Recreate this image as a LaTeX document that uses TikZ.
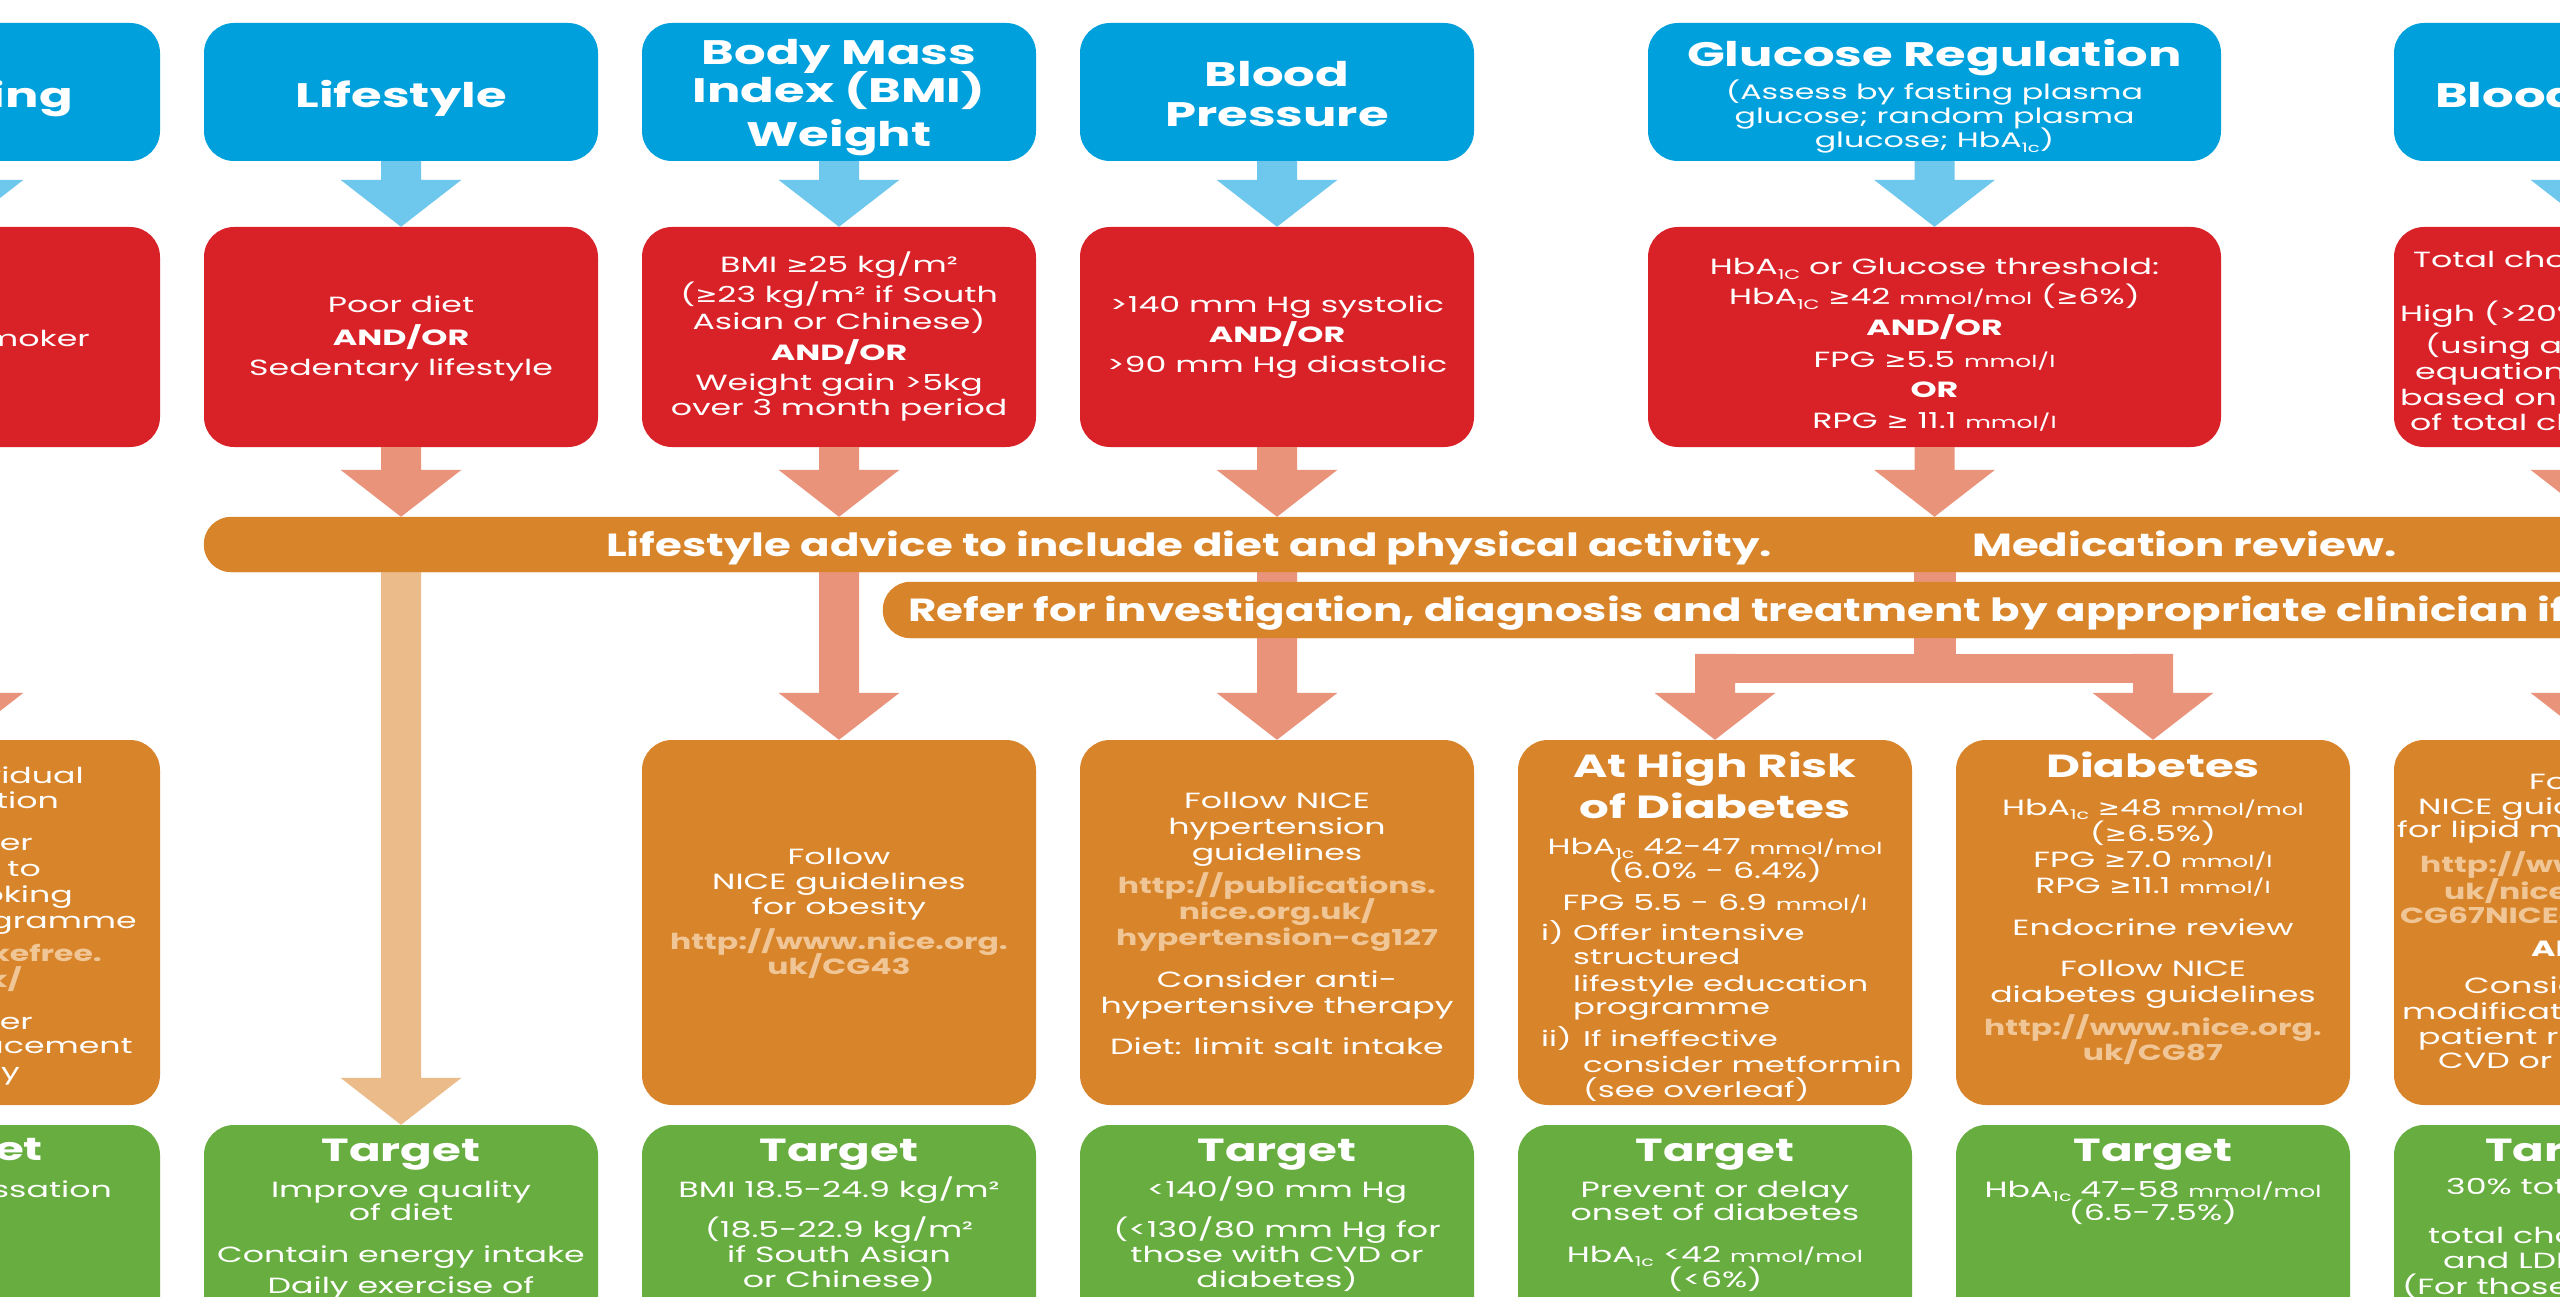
\documentclass[tikz,border=0pt]{standalone}
\usepackage{fontspec}
\usepackage{graphicx}
\setmainfont{Poppins}[FakeStretch=1.51]
\newfontfamily\hdfont{Poppins}[FakeStretch=1.46]
\newfontfamily\urlfont{Poppins}[FakeStretch=1.43]
\newfontfamily\barfont{Poppins}[FakeStretch=1.36]
\newfontfamily\symfont{DejaVu Sans}[FakeStretch=1.2]
\usetikzlibrary{calc}

\definecolor{hdrblue}{HTML}{00A0DC}
\definecolor{arrblue}{HTML}{6EC7EC}
\definecolor{riskred}{HTML}{D92128}
\definecolor{arrsalmon}{HTML}{EA937B}
\definecolor{actorange}{HTML}{D8842A}
\definecolor{arrpeach}{HTML}{EBBC89}
\definecolor{tgtgreen}{HTML}{67AD3F}
\definecolor{urlpeach}{HTML}{F0C696}

\newcommand\gte{{\symfont ≥}}
\newcommand\hba[1]{HbA\raisebox{-0.2em}{\scalebox{0.62}{#1}}}
\newcommand\unt[1]{\scalebox{0.75}{#1}}
% block arrow: colour, start of stem, tip (same x)
\newcommand\blockarrow[3]{%
  \fill[#1] ($(#2)+(-20,0)$) -- ($(#2)+(20,0)$) -- ($(#3)+(20,-47)$)
    -- ($(#3)+(60.5,-47)$) -- (#3) -- ($(#3)+(-60.5,-47)$)
    -- ($(#3)+(-20,-47)$) -- cycle;}

\begin{document}
\begin{tikzpicture}[x=1pt,y=-1pt,
  panel/.style={rounded corners=30pt, inner sep=0pt, minimum width=394pt},
  band/.style={rounded corners=27.5pt, inner sep=0pt, fill=actorange},
  tx/.style={anchor=base, text=white, inner sep=0pt, font=\fontsize{22}{26}\selectfont},
  txl/.style={tx, anchor=base west, font=\fontsize{21.4}{26}\selectfont},
  txb/.style={tx, font=\fontsize{22}{26}\selectfont\bfseries},
  url/.style={tx, text=urlpeach, font=\urlfont\fontsize{22}{26}\selectfont\bfseries},
  hd/.style={tx, font=\hdfont\fontsize{34}{40}\selectfont\bfseries},
  hdsub/.style={tx, font=\fontsize{21}{24}\selectfont},
  sect/.style={tx, font=\hdfont\fontsize{32}{36}\selectfont\bfseries},
  tgt/.style={tx, font=\hdfont\fontsize{32}{36}\selectfont\bfseries},
  bandtx/.style={anchor=base west, text=white, inner sep=0pt, font=\barfont\fontsize{32}{36}\selectfont\bfseries},
]
\useasboundingbox (0,0) rectangle (2560,1297);
\clip (0,0) rectangle (2560,1297);
\fill[white] (0,0) rectangle (2560,1297);

% ---------- header row ----------
\node[panel, fill=hdrblue, minimum height=138pt] (h0) at (-37,92) {};
\node[panel, fill=hdrblue, minimum height=138pt] (h1) at (401,92) {};
\node[panel, fill=hdrblue, minimum height=138pt] (h2) at (839,92) {};
\node[panel, fill=hdrblue, minimum height=138pt] (h3) at (1277,92) {};
\node[panel, fill=hdrblue, minimum height=138pt, minimum width=573pt] (hg) at (1934.5,92) {};
\node[panel, fill=hdrblue, minimum height=138pt] (h6) at (2591,92) {};

% ---------- risk row ----------
\node[panel, fill=riskred, minimum height=220pt] (r0) at (-37,337) {};
\node[panel, fill=riskred, minimum height=220pt] (r1) at (401,337) {};
\node[panel, fill=riskred, minimum height=220pt] (r2) at (839,337) {};
\node[panel, fill=riskred, minimum height=220pt] (r3) at (1277,337) {};
\node[panel, fill=riskred, minimum height=220pt, minimum width=573pt] (rg) at (1934.5,337) {};
\node[panel, fill=riskred, minimum height=220pt] (r6) at (2591,337) {};

% ---------- action row ----------
\node[panel, fill=actorange, minimum height=365pt] (o0) at (-37,922.5) {};
\node[panel, fill=actorange, minimum height=365pt] (o2) at (839,922.5) {};
\node[panel, fill=actorange, minimum height=365pt] (o3) at (1277,922.5) {};
\node[panel, fill=actorange, minimum height=365pt] (o4) at (1715,922.5) {};
\node[panel, fill=actorange, minimum height=365pt] (o5) at (2153,922.5) {};
\node[panel, fill=actorange, minimum height=365pt] (o6) at (2591,922.5) {};

% ---------- target row ----------
\node[panel, fill=tgtgreen, minimum height=300pt] (g0) at (-37,1275) {};
\node[panel, fill=tgtgreen, minimum height=300pt] (g1) at (401,1275) {};
\node[panel, fill=tgtgreen, minimum height=300pt] (g2) at (839,1275) {};
\node[panel, fill=tgtgreen, minimum height=300pt] (g3) at (1277,1275) {};
\node[panel, fill=tgtgreen, minimum height=300pt] (g4) at (1715,1275) {};
\node[panel, fill=tgtgreen, minimum height=300pt] (g5) at (2153,1275) {};
\node[panel, fill=tgtgreen, minimum height=300pt] (g6) at (2591,1275) {};

% ---------- bands (placed first so arrows can refer to them) ----------
\path (1552,544.5) node[band, minimum width=2696pt, minimum height=55pt] (bar1) {};
\path (1891.5,610) node[band, minimum width=2017pt, minimum height=56pt] (bar2) {};

% ---------- arrows ----------
\blockarrow{arrblue}{h0.south}{r0.north}
\blockarrow{arrblue}{h1.south}{r1.north}
\blockarrow{arrblue}{h2.south}{r2.north}
\blockarrow{arrblue}{h3.south}{r3.north}
\blockarrow{arrblue}{hg.south}{rg.north}
\blockarrow{arrblue}{h6.south}{r6.north}

\blockarrow{arrsalmon}{r0.south}{o0.north}
\coordinate (t1) at (r1 |- bar1.north);
\coordinate (t2) at (r2 |- bar1.north);
\coordinate (t3) at (r3 |- bar1.north);
\coordinate (tg) at (rg |- bar1.north);
\coordinate (t6) at (r6 |- bar1.north);
\blockarrow{arrsalmon}{r1.south}{t1}
\blockarrow{arrsalmon}{r2.south}{t2}
\blockarrow{arrsalmon}{r3.south}{t3}
\blockarrow{arrsalmon}{rg.south}{tg}
\blockarrow{arrsalmon}{r6.south}{t6}

\coordinate (s1) at (r1 |- bar1.south);
\coordinate (s2) at (r2 |- bar1.south);
\coordinate (s3) at (r3 |- bar1.south);
\coordinate (sg) at (rg |- bar1.south);
\coordinate (s6) at (r6 |- bar1.south);
\blockarrow{arrpeach}{s1}{g1.north}
\blockarrow{arrsalmon}{s2}{o2.north}
\blockarrow{arrsalmon}{s3}{o3.north}
\blockarrow{arrsalmon}{s6}{o6.north}

% fork towards the two glucose outcomes
\coordinate (forkL) at ($(o4.north)+(0,-86)$);
\coordinate (forkR) at ($(o5.north)+(0,-86)$);
\fill[arrsalmon] ($(sg)+(-21,0)$) rectangle ($(sg |- forkL)+(21,29)$);
\fill[arrsalmon] ($(forkL)+(-20,0)$) rectangle ($(forkR)+(20,29)$);
\blockarrow{arrsalmon}{forkL}{o4.north}
\blockarrow{arrsalmon}{forkR}{o5.north}

% bands drawn over the arrows
\fill[actorange, rounded corners=27.5pt] (bar1.south west) rectangle (bar1.north east);
\fill[actorange, rounded corners=28pt] (bar2.south west) rectangle (bar2.north east);

\node[bandtx] (b1a) at (606,556) {Lifestyle advice to include diet and physical activity.};
\node[bandtx] (b1b) at (1972,556) {Medication review.};
\node[bandtx] (b2a) at (908,621) {Refer for investigation, diagnosis and treatment by appropriate clinician if necessary.};

% ---------- header texts ----------
\node[hd, anchor=base east] (h0t) at (73,108) {Smoking};
\node[hd] (h1t) at (401,108) {Lifestyle};
\node[hd] (h2a) at (839,65) {Body Mass};
\node[hd] (h2b) at (839,103) {Index (BMI)};
\node[hd] (h2c) at (839,147) {Weight};
\node[hd] (h3a) at (1277,87) {Blood};
\node[hd] (h3b) at (1277,127) {Pressure};
\node[hd] (hga) at (1934.5,67) {Glucose Regulation};
\node[hdsub] (hgb) at (1934.5,100) {(Assess by fasting plasma};
\node[hdsub] (hgc) at (1934.5,124) {glucose; random plasma};
\node[hdsub] (hgd) at (1934.5,148) {glucose; \hba{1c})};
\node[hd, anchor=base west] (h6t) at (2435,108) {Blood Lipids};

% ---------- risk texts ----------
\node[tx, anchor=base east] (r0a) at (90,347) {Current smoker};

\node[tx] (r1a) at (401,313) {Poor diet};
\node[txb] (r1b) at (401,345) {AND/OR};
\node[tx] (r1c) at (401,375) {Sedentary lifestyle};

\node[tx] (r2a) at (839,273) {BMI \gte25 kg/m²};
\node[tx] (r2b) at (839,303) {(\gte23 kg/m² if South};
\node[tx] (r2c) at (839,330) {Asian or Chinese)};
\node[txb] (r2d) at (839,360) {AND/OR};
\node[tx] (r2e) at (839,390) {Weight gain >5kg};
\node[tx] (r2f) at (839,415) {over 3 month period};

\node[tx] (r3a) at (1277,313) {>140 mm Hg systolic};
\node[txb] (r3b) at (1277,343) {AND/OR};
\node[tx] (r3c) at (1277,373) {>90 mm Hg diastolic};

\node[tx] (rga) at (1934.5,275) {\hba{1C} or Glucose threshold:};
\node[tx] (rgb) at (1934.5,305) {\hba{1C} \gte42 \unt{mmol/mol} (\gte6\%)};
\node[txb] (rgc) at (1934.5,335) {AND/OR};
\node[tx] (rgd) at (1934.5,367) {FPG \gte5.5 \unt{mmol/l}};
\node[txb] (rge) at (1934.5,397) {OR};
\node[tx] (rgf) at (1934.5,428) {RPG \gte{} 11.1 \unt{mmol/l}};

\node[tx, anchor=base west] (r6a) at (2413,268) {Total cholesterol};
\node[tx, anchor=base west] (r6b) at (2400,322) {High (>20\%) CVD risk};
\node[tx, anchor=base west] (r6c) at (2425,353) {(using an appropriate};
\node[tx, anchor=base west] (r6d) at (2415,379) {equation, e.g. QRISK2,};
\node[tx, anchor=base west] (r6e) at (2400,405) {based on the ratio};
\node[tx, anchor=base west] (r6f) at (2410,430) {of total cholesterol:HDL)};

% ---------- action texts ----------
\node[tx, anchor=base east] (o0a) at (84,783) {Offer individual};
\node[tx, anchor=base east] (o0b) at (59,808) {consultation};
\node[tx, anchor=base east] (o0c) at (33,850) {Consider};
\node[tx, anchor=base east] (o0d) at (41,876) {referral to};
\node[tx, anchor=base east] (o0e) at (73,902) {stop smoking};
\node[tx, anchor=base east] (o0f) at (137,928) {cessation programme};
\node[url, anchor=base east] (o0g) at (102,961) {http://smokefree.};
\node[url, anchor=base east] (o0h) at (22,987) {nhs.uk/};
\node[tx, anchor=base east] (o0i) at (33,1029) {Consider};
\node[tx, anchor=base east] (o0j) at (133,1053) {nicotine replacement};
\node[tx, anchor=base east] (o0k) at (20,1079) {therapy};

\node[tx] (o2a) at (839,864) {Follow};
\node[tx] (o2b) at (839,889) {NICE guidelines};
\node[tx] (o2c) at (839,914) {for obesity};
\node[url] (o2d) at (839,949) {http://www.nice.org.};
\node[url] (o2e) at (839,974) {uk/CG43};

\node[tx] (o3a) at (1277,808) {Follow NICE};
\node[tx] (o3b) at (1277,834) {hypertension};
\node[tx] (o3c) at (1277,860) {guidelines};
\node[url] (o3d) at (1277,893) {http://publications.};
\node[url] (o3e) at (1277,919) {nice.org.uk/};
\node[url] (o3f) at (1277,945) {hypertension-cg127};
\node[tx] (o3g) at (1277,987) {Consider anti-};
\node[tx] (o3h) at (1277,1013) {hypertensive therapy};
\node[tx] (o3i) at (1277,1054) {Diet: limit salt intake};

\node[sect] (o4a) at (1715,777) {At High Risk};
\node[sect] (o4b) at (1715,818) {of Diabetes};
\node[tx] (o4c) at (1715,854) {\hba{1c} 42-47 \unt{mmol/mol}};
\node[tx] (o4d) at (1715,878) {(6.0\% - 6.4\%)};
\node[tx] (o4e) at (1715,910) {FPG 5.5 - 6.9 \unt{mmol/l}};
\node[txl] (o4f) at (1541,940) {i)};
\node[txl] (o4g) at (1573,940) {Offer intensive};
\node[txl] (o4h) at (1573,964) {structured};
\node[txl] (o4i) at (1573,991) {lifestyle education};
\node[txl] (o4j) at (1573,1014) {programme};
\node[txl] (o4k) at (1541,1046) {ii)};
\node[txl] (o4l) at (1583,1046) {If ineffective};
\node[txl] (o4m) at (1583,1072) {consider metformin};
\node[txl] (o4n) at (1583,1097) {(see overleaf)};

\node[sect] (o5a) at (2153,777) {Diabetes};
\node[tx] (o5b) at (2153,815) {\hba{1c} \gte48 \unt{mmol/mol}};
\node[tx] (o5c) at (2153,841) {(\gte6.5\%)};
\node[tx] (o5d) at (2153,867) {FPG \gte7.0 \unt{mmol/l}};
\node[tx] (o5e) at (2153,893) {RPG \gte11.1 \unt{mmol/l}};
\node[tx] (o5f) at (2153,935) {Endocrine review};
\node[tx] (o5g) at (2153,976) {Follow NICE};
\node[tx] (o5h) at (2153,1002) {diabetes guidelines};
\node[url] (o5i) at (2153,1035) {http://www.nice.org.};
\node[url] (o5j) at (2153,1060) {uk/CG87};

\node[tx, anchor=base west] (o6a) at (2529,789) {Follow};
\node[tx, anchor=base west] (o6b) at (2418,814) {NICE guidelines};
\node[tx, anchor=base west] (o6c) at (2397,837) {for lipid modification};
\node[url, anchor=base west] (o6d) at (2420,872) {http://www.nice.org.};
\node[url, anchor=base west] (o6e) at (2444,899) {uk/nicemedia/pdf/};
\node[url, anchor=base west] (o6f) at (2400,923) {CG67NICEguideline.pdf};
\node[txb, anchor=base west] (o6g) at (2531,956) {AND};
\node[tx, anchor=base west] (o6h) at (2464,993) {Consider};
\node[tx, anchor=base west] (o6i) at (2402,1019) {modification of};
\node[tx, anchor=base west] (o6j) at (2418,1044) {patient risk factors};
\node[tx, anchor=base west] (o6k) at (2438,1068) {CVD or diabetes};

% ---------- target texts ----------
\node[tgt, anchor=base east] (g0a) at (43,1160) {Target};
\node[tx, anchor=base east] (g0b) at (112,1197) {Smoking cessation};

\node[tgt] (g1a) at (401,1161) {Target};
\node[tx] (g1b) at (401,1197) {Improve quality};
\node[tx] (g1c) at (401,1220) {of diet};
\node[tx] (g1d) at (401,1262) {Contain energy intake};
\node[tx] (g1e) at (401,1293) {Daily exercise of};

\node[tgt] (g2a) at (839,1161) {Target};
\node[tx] (g2b) at (839,1197) {BMI 18.5-24.9 kg/m²};
\node[tx] (g2c) at (839,1237) {(18.5-22.9 kg/m²};
\node[tx] (g2d) at (839,1262) {if South Asian};
\node[tx] (g2e) at (839,1287) {or Chinese)};

\node[tgt] (g3a) at (1277,1161) {Target};
\node[tx] (g3b) at (1277,1197) {<140/90 mm Hg};
\node[tx] (g3c) at (1277,1237) {(<130/80 mm Hg for};
\node[tx] (g3d) at (1277,1262) {those with CVD or};
\node[tx] (g3e) at (1277,1287) {diabetes)};

\node[tgt] (g4a) at (1715,1161) {Target};
\node[tx] (g4b) at (1715,1197) {Prevent or delay};
\node[tx] (g4c) at (1715,1220) {onset of diabetes};
\node[tx] (g4d) at (1715,1262) {\hba{1c} <42 \unt{mmol/mol}};
\node[tx] (g4e) at (1715,1287) {(<6\%)};

\node[tgt] (g5a) at (2153,1161) {Target};
\node[tx] (g5b) at (2153,1197) {\hba{1c} 47-58 \unt{mmol/mol}};
\node[tx] (g5c) at (2153,1220) {(6.5-7.5\%)};

\node[tgt, anchor=base west] (g6a) at (2485,1161) {Target};
\node[tx, anchor=base west] (g6b) at (2446,1194) {30\% total reduction};
\node[tx, anchor=base west] (g6c) at (2428,1243) {total cholesterol};
\node[tx, anchor=base west] (g6d) at (2443,1268) {and LDL cholesterol};
\node[tx, anchor=base west] (g6e) at (2402,1294) {(For those with CVD};
\end{tikzpicture}
\end{document}
